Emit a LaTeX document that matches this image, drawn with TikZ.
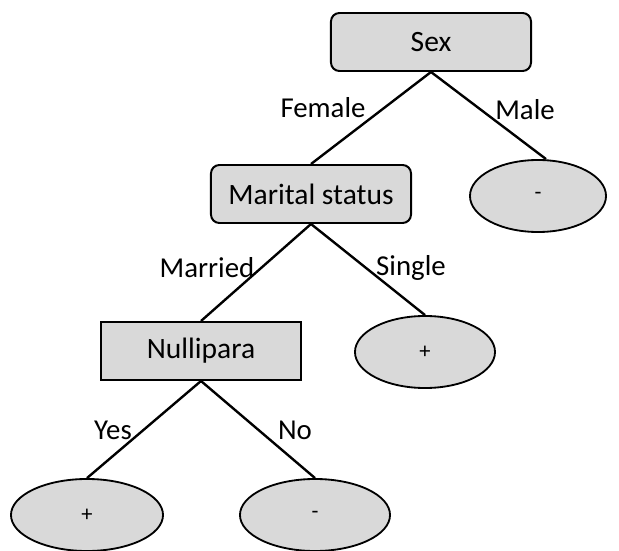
\documentclass[tikz,border=0pt]{standalone}
\usepackage{xcolor}
\usepackage{fontspec}
\setmainfont{Carlito}
\usetikzlibrary{shapes.geometric}
\definecolor{boxgray}{HTML}{D9D9D9}
\tikzset{
  testbox/.style={draw, line width=1.4pt, fill=boxgray, rounded corners=6pt,
    minimum width=5.0cm, minimum height=1.45cm, font=\fontsize{21}{25}\selectfont},
  leafnode/.style={draw, line width=1.3pt, fill=boxgray, ellipse,
    minimum width=3.5cm, minimum height=1.8cm, inner sep=0pt, font=\fontsize{16}{18}\selectfont},
  edgelabel/.style={font=\fontsize{20.5}{24}\selectfont, inner sep=1pt},
  branch/.style={line width=1.7pt}
}
\begin{document}
\begin{tikzpicture}[x=0.025cm,y=-0.025cm]
            \useasboundingbox (0,0) rectangle (619,551);
            %绘制判断节点
            \node[testbox] (sex) at (431,42) {Sex};
            \node[testbox] (marital) at (311,194) {Marital status};
            \node[testbox, rounded corners=0pt] (nullipara) at (201,351) {Nullipara};
            %绘制叶子节点
            \node[leafnode, minimum width=3.4cm] (male) at (538,196) {-};
            \node[leafnode] (single) at (425,352) {+};
            \node[leafnode, minimum width=3.8cm] (yes) at (87,515) {+};
            \node[leafnode, minimum width=3.75cm] (no) at (315,515) {-};
            %绘制连线
            \draw[branch] (sex.south) -- (marital.north);
            \draw[branch] (sex.south) -- ([xshift=0.2cm]male.north);
            \draw[branch] (marital.south) -- (nullipara.north);
            \draw[branch] (marital.south) -- (single.north);
            \draw[branch] (nullipara.south) -- (yes.north);
            \draw[branch] (nullipara.south) -- (no.north);
            %绘制分支标签
            \node[edgelabel] (lfemale) at (323,108) {Female};
            \node[edgelabel] (lmale) at (525,110) {Male};
            \node[edgelabel] (lmarried) at (207,268) {Married};
            \node[edgelabel] (lsingle) at (411,268) {Single};
            \node[edgelabel] (lyes) at (113,430) {Yes};
            \node[edgelabel] (lno) at (295,430) {No};
        \end{tikzpicture}
\end{document}
